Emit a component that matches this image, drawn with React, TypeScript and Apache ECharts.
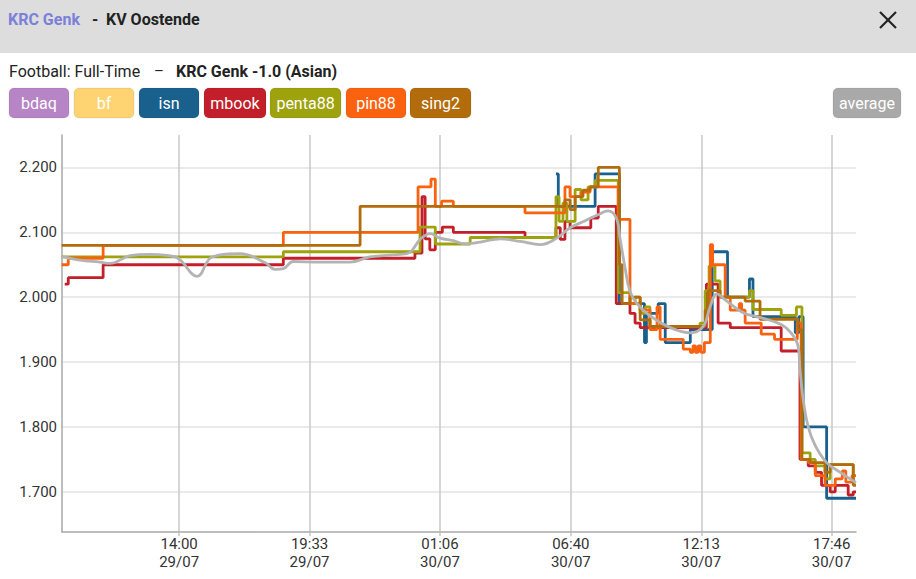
import React, { useEffect, useRef } from "react";
import * as echarts from "echarts";

// ---------- data ----------
const seriesNames = ["bdaq", "bf", "isn", "mbook", "penta88", "pin88", "sing2", "average"];
const seriesColors = ["#b784c6", "#fdd471", "#19608d", "#c21f2a", "#9ea20d", "#fb6210", "#b36c0c", "#a9a9a9"];

const xTickLabels = ["29/07 14:00", "29/07 19:33", "30/07 01:06", "30/07 06:40", "30/07 12:13", "30/07 17:46"];
const xRange = ["29/07 09:01", "30/07 18:48"];
const yTicks = [1.7, 1.8, 1.9, 2.0, 2.1, 2.2];
const yRange = [1.638, 2.25];

type Pt = [string, number];

const bdaq: Pt[] = [];
const bf: Pt[] = [];

const isn: Pt[] = [
  ["30/07 06:02", 2.19], ["30/07 06:08", 2.14], ["30/07 07:42", 2.19], ["30/07 08:44", 1.99],
  ["30/07 09:48", 1.93], ["30/07 09:53", 1.975], ["30/07 10:23", 1.99], ["30/07 10:41", 1.93],
  ["30/07 11:45", 1.95], ["30/07 12:41", 2.07], ["30/07 13:20", 2.0], ["30/07 14:16", 2.028],
  ["30/07 14:25", 1.97], ["30/07 16:13", 1.945], ["30/07 16:22", 1.97], ["30/07 16:33", 1.8],
  ["30/07 17:33", 1.69], ["30/07 18:48", 1.69],
];

const mbook: Pt[] = [
  ["29/07 09:08", 2.02], ["29/07 09:17", 2.03], ["29/07 10:46", 2.05], ["29/07 18:26", 2.06],
  ["30/07 00:02", 2.068], ["30/07 00:20", 2.155], ["30/07 00:28", 2.09], ["30/07 00:40", 2.073],
  ["30/07 00:54", 2.1], ["30/07 01:12", 2.108], ["30/07 01:40", 2.1], ["30/07 04:43", 2.092],
  ["30/07 06:02", 2.107], ["30/07 06:13", 2.089], ["30/07 06:25", 2.117], ["30/07 06:38", 2.107],
  ["30/07 07:31", 2.122], ["30/07 07:50", 2.14], ["30/07 08:36", 1.99], ["30/07 09:11", 1.975],
  ["30/07 09:24", 1.96], ["30/07 09:37", 1.953], ["30/07 12:26", 2.02], ["30/07 12:56", 1.96],
  ["30/07 13:27", 1.953], ["30/07 15:37", 1.917], ["30/07 16:25", 1.75], ["30/07 16:46", 1.74],
  ["30/07 17:04", 1.73], ["30/07 17:20", 1.71], ["30/07 17:42", 1.7], ["30/07 17:55", 1.71],
  ["30/07 18:28", 1.695], ["30/07 18:41", 1.7], ["30/07 18:48", 1.7],
];

const penta88: Pt[] = [
  ["29/07 09:00", 2.062], ["29/07 18:26", 2.07], ["30/07 00:15", 2.108], ["30/07 00:54", 2.082],
  ["30/07 02:23", 2.092], ["30/07 06:02", 2.155], ["30/07 06:10", 2.117], ["30/07 06:20", 2.145],
  ["30/07 06:30", 2.117], ["30/07 06:51", 2.166], ["30/07 07:06", 2.15], ["30/07 07:24", 2.17],
  ["30/07 07:42", 2.18], ["30/07 08:41", 2.007], ["30/07 09:11", 1.99], ["30/07 09:24", 2.0],
  ["30/07 09:37", 1.975], ["30/07 09:50", 1.985], ["30/07 10:02", 1.955], ["30/07 12:10", 1.96],
  ["30/07 12:23", 2.01], ["30/07 12:33", 2.048], ["30/07 12:48", 2.025], ["30/07 13:01", 2.0],
  ["30/07 14:16", 2.01], ["30/07 14:25", 1.981], ["30/07 15:37", 1.972], ["30/07 16:16", 1.985],
  ["30/07 16:30", 1.76], ["30/07 16:51", 1.75], ["30/07 17:04", 1.74], ["30/07 17:29", 1.72],
  ["30/07 17:42", 1.742], ["30/07 18:41", 1.715], ["30/07 18:48", 1.715],
];

const pin88: Pt[] = [
  ["29/07 09:00", 2.05], ["29/07 09:17", 2.06], ["29/07 10:46", 2.08], ["29/07 18:26", 2.1],
  ["30/07 00:10", 2.17], ["30/07 00:43", 2.182], ["30/07 00:54", 2.14], ["30/07 01:10", 2.148],
  ["30/07 01:40", 2.14], ["30/07 04:43", 2.13], ["30/07 06:25", 2.17], ["30/07 06:38", 2.155],
  ["30/07 07:06", 2.162], ["30/07 07:29", 2.17], ["30/07 08:41", 2.12], ["30/07 09:11", 1.99],
  ["30/07 09:37", 1.98], ["30/07 10:02", 1.95], ["30/07 10:20", 1.985], ["30/07 10:28", 1.935],
  ["30/07 11:27", 1.92], ["30/07 11:45", 1.915], ["30/07 11:52", 1.925], ["30/07 11:58", 1.915],
  ["30/07 12:05", 1.925], ["30/07 12:12", 1.915], ["30/07 12:21", 1.93], ["30/07 12:36", 2.081],
  ["30/07 12:42", 2.05], ["30/07 13:14", 2.0], ["30/07 13:27", 1.98], ["30/07 13:50", 1.99],
  ["30/07 13:56", 1.98], ["30/07 14:05", 1.96], ["30/07 14:46", 1.943], ["30/07 15:20", 1.935],
  ["30/07 16:18", 1.96], ["30/07 16:28", 1.75], ["30/07 16:46", 1.745], ["30/07 17:04", 1.725],
  ["30/07 17:29", 1.71], ["30/07 17:55", 1.72], ["30/07 18:13", 1.732], ["30/07 18:22", 1.715],
  ["30/07 18:38", 1.725], ["30/07 18:48", 1.725],
];

const sing2: Pt[] = [
  ["29/07 09:00", 2.08], ["29/07 21:42", 2.14], ["30/07 06:25", 2.15], ["30/07 06:38", 2.135],
  ["30/07 06:51", 2.155], ["30/07 07:11", 2.165], ["30/07 07:29", 2.17], ["30/07 07:50", 2.2],
  ["30/07 08:44", 2.05], ["30/07 08:51", 1.99], ["30/07 09:11", 2.0], ["30/07 09:37", 1.965],
  ["30/07 10:02", 1.955], ["30/07 12:23", 1.98], ["30/07 12:31", 2.01], ["30/07 13:01", 2.0],
  ["30/07 14:05", 1.994], ["30/07 14:43", 1.966], ["30/07 16:20", 1.95], ["30/07 16:30", 1.75],
  ["30/07 16:51", 1.745], ["30/07 17:29", 1.73], ["30/07 17:42", 1.742], ["30/07 18:41", 1.71],
  ["30/07 18:48", 1.71],
];

const average: Pt[] = [
  ["29/07 09:00", 2.063], ["29/07 09:47", 2.057], ["29/07 10:38", 2.054], ["29/07 11:04", 2.052],
  ["29/07 11:55", 2.064], ["29/07 12:46", 2.066], ["29/07 13:50", 2.062], ["29/07 14:46", 2.032],
  ["29/07 15:24", 2.062], ["29/07 16:36", 2.067], ["29/07 17:40", 2.053], ["29/07 18:05", 2.043],
  ["29/07 18:26", 2.044], ["29/07 18:51", 2.055], ["29/07 20:00", 2.054], ["29/07 21:16", 2.054],
  ["29/07 22:07", 2.062], ["29/07 23:24", 2.066], ["29/07 23:49", 2.069], ["30/07 00:15", 2.089],
  ["30/07 00:41", 2.098], ["30/07 01:06", 2.091], ["30/07 01:40", 2.087], ["30/07 02:10", 2.082],
  ["30/07 02:49", 2.085], ["30/07 03:40", 2.09], ["30/07 04:31", 2.086], ["30/07 05:22", 2.081],
  ["30/07 06:04", 2.091], ["30/07 06:38", 2.107], ["30/07 07:14", 2.117], ["30/07 07:49", 2.127],
  ["30/07 08:15", 2.133], ["30/07 08:36", 2.122], ["30/07 08:46", 2.089], ["30/07 08:59", 2.043],
  ["30/07 09:11", 2.009], ["30/07 09:28", 1.991], ["30/07 10:02", 1.971], ["30/07 10:54", 1.953],
  ["30/07 11:45", 1.945], ["30/07 12:18", 1.955], ["30/07 12:36", 1.986], ["30/07 12:53", 2.005],
  ["30/07 13:14", 1.996], ["30/07 14:00", 1.976], ["30/07 14:47", 1.968], ["30/07 15:37", 1.958],
  ["30/07 16:02", 1.945], ["30/07 16:20", 1.925], ["30/07 16:25", 1.889], ["30/07 16:33", 1.843],
  ["30/07 16:46", 1.8], ["30/07 17:04", 1.771], ["30/07 17:33", 1.745], ["30/07 18:08", 1.73],
  ["30/07 18:48", 1.714],
];

const seriesData: Pt[][] = [bdaq, bf, isn, mbook, penta88, pin88, sing2, average];

// ---------- helpers ----------
const toMin = (s: string): number => {
  const [d, t] = s.split(" ");
  const day = parseInt(d.split("/")[0], 10) - 29;
  const [hh, mm] = t.split(":").map((x) => parseInt(x, 10));
  return day * 1440 + hh * 60 + mm;
};
const pad = (n: number) => (n < 10 ? "0" + n : "" + n);
const fmtX = (v: number): string => {
  const r = Math.round(v);
  const day = Math.floor(r / 1440);
  const m = r - day * 1440;
  return pad(Math.floor(m / 60)) + ":" + pad(m % 60) + "\n" + (29 + day) + "/07";
};

const FONT = "Roboto, 'Noto Sans', sans-serif";

export default function App() {
  const ref = useRef<HTMLDivElement>(null);

  useEffect(() => {
    document.body.style.margin = "0";
    if (!ref.current) return;
    const chart = echarts.init(ref.current, undefined, { renderer: "svg" });
    const xTicks = xTickLabels.map(toMin);

    // legend buttons layout
    const btnX = [9, 74, 139, 204, 270, 346, 410, 833];
    const btnW = [60, 60, 60, 62, 71, 60, 61, 68];
    const buttons: any[] = [];
    seriesNames.forEach((n, i) => {
      buttons.push({
        type: "rect",
        shape: { x: btnX[i], y: 88, width: btnW[i], height: 30, r: 5 },
        style: { fill: seriesColors[i], stroke: "rgba(0,0,0,0.08)", lineWidth: 1 },
      });
      buttons.push({
        type: "text",
        x: btnX[i] + btnW[i] / 2,
        y: 103,
        style: {
          text: n,
          fill: "#ffffff",
          font: "16px " + FONT,
          textAlign: "center",
          textVerticalAlign: "middle",
        },
      });
    });

    const series: any[] = seriesNames.map((n, i) => {
      const isAvg = n === "average";
      return {
        name: n,
        type: "line",
        data: seriesData[i].map(([t, v]) => [toMin(t), v]),
        step: isAvg ? false : "end",
        smooth: isAvg ? 0.4 : false,
        showSymbol: false,
        symbol: "none",
        lineStyle: { width: 2.8, color: isAvg ? "#b3b3b3" : seriesColors[i] },
        itemStyle: { color: isAvg ? "#b3b3b3" : seriesColors[i] },
        emphasis: { disabled: true },
        z: 2 + i,
      };
    });

    chart.setOption({
      animation: false,
      backgroundColor: "#ffffff",
      grid: { left: 62, right: 60, top: 135, bottom: 47, containLabel: false, outerBoundsMode: "none" },
      xAxis: {
        type: "value",
        min: toMin(xRange[0]),
        max: toMin(xRange[1]),
        axisLine: { show: true, lineStyle: { color: "#a8a8a8", width: 1.5 } },
        axisTick: { show: true, customValues: xTicks, length: 4, lineStyle: { color: "#c4c4c4", width: 1.5 } },
        axisLabel: {
          customValues: xTicks,
          formatter: fmtX,
          fontSize: 15,
          fontFamily: FONT,
          color: "#333333",
          lineHeight: 18,
          margin: 3,
        },
        splitLine: { show: true, lineStyle: { color: "#c8c8c8", width: 1.5 } },
      },
      yAxis: {
        type: "value",
        min: yRange[0],
        max: yRange[1],
        axisLine: { show: true, lineStyle: { color: "#a8a8a8", width: 1.5 } },
        axisTick: { show: false, customValues: yTicks },
        axisLabel: {
          customValues: yTicks,
          formatter: (v: number) => v.toFixed(3),
          fontSize: 15,
          fontFamily: FONT,
          color: "#333333",
          margin: 5,
        },
        splitLine: { show: true, lineStyle: { color: "#e3e3e3", width: 1.5 } },
      },
      series,
      graphic: [
        { type: "rect", shape: { x: 0, y: 0, width: 916, height: 53 }, style: { fill: "#dddddd" } },
        {
          type: "text", x: 8, y: 19,
          style: { text: "KRC Genk", fill: "#7b80d8", font: "bold 16px " + FONT, textVerticalAlign: "middle" },
        },
        {
          type: "text", x: 92, y: 19,
          style: { text: "-", fill: "#222222", font: "bold 16px " + FONT, textVerticalAlign: "middle" },
        },
        {
          type: "text", x: 106, y: 19,
          style: { text: "KV Oostende", fill: "#222222", font: "bold 16px " + FONT, textVerticalAlign: "middle" },
        },
        { type: "line", shape: { x1: 880, y1: 12, x2: 896, y2: 28 }, style: { stroke: "#222222", lineWidth: 2.2 } },
        { type: "line", shape: { x1: 896, y1: 12, x2: 880, y2: 28 }, style: { stroke: "#222222", lineWidth: 2.2 } },
        {
          type: "text", x: 9, y: 71,
          style: { text: "Football: Full-Time", fill: "#222222", font: "16px " + FONT, textVerticalAlign: "middle" },
        },
        {
          type: "text", x: 154, y: 71,
          style: { text: "–", fill: "#222222", font: "15px " + FONT, textVerticalAlign: "middle" },
        },
        {
          type: "text", x: 176, y: 71,
          style: { text: "KRC Genk -1.0 (Asian)", fill: "#222222", font: "bold 16px " + FONT, textVerticalAlign: "middle" },
        },
        ...buttons,
      ],
    });

    return () => chart.dispose();
  }, []);

  return <div ref={ref} style={{ width: 916, height: 579 }} />;
}
